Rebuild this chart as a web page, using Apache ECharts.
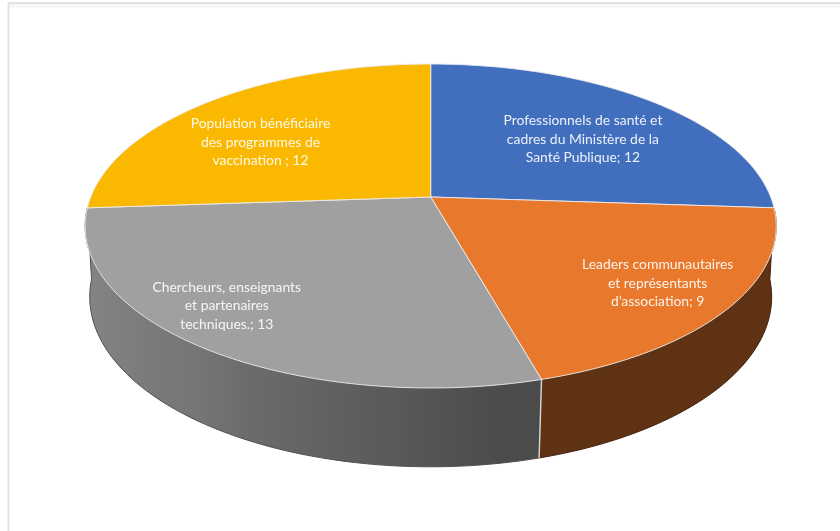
<!DOCTYPE html>
<html>
<head>
<meta charset="utf-8">
<style>
html,body{margin:0;padding:0;background:#fff}
#c{width:840px;height:531px;filter:blur(0.6px)}
</style>
<script src="https://cdn.jsdelivr.net/npm/echarts@6/dist/echarts.min.js"></script>
</head>
<body>
<div id="c"></div>
<script>
const categories = [
  "Professionnels de santé et\ncadres du Ministère de la\nSanté Publique; 12",
  "Leaders communautaires\net représentants\nd’association; 9",
  "Chercheurs, enseignants\net partenaires\ntechniques.; 13",
  "Population bénéficiaire\ndes programmes de\nvaccination ; 12"
];
const values = [12, 9, 13, 12];
const topColors = ["#426ebe", "#e8782b", "#a0a0a0", "#fab900"];

/* Layout of the perspective disc */
const TOP = {cx: 430.7, cy: 197, A: 340, B: 156.8, k: 0.179};
const BOTTOM = {cx: 430.7, cy: 268, A: 336, B: 165, k: 0.17};
const labelPlace = [[0.62, 9, 4], [0.8, -5, -1], [0.7, -51, 9], [0.62, -27, 7]];

const total = values.reduce((a, b) => a + b, 0);
const deg = d => d * Math.PI / 180;
function angles(i) {
  let s = 0;
  for (let j = 0; j < i; j++) s += values[j];
  return [s / total * 360, (s + values[i]) / total * 360];
}
function project(disc, a, r) {
  const u = r * Math.sin(deg(a)), v = -r * Math.cos(deg(a));
  const w = 1 - disc.k * v;
  return [disc.cx + disc.A * u / w, disc.cy + disc.B * v / w];
}
function rim(disc, a0, a1) {
  const pts = [], n = Math.max(2, Math.ceil((a1 - a0) / 1.5));
  for (let i = 0; i <= n; i++) pts.push(project(disc, a0 + (a1 - a0) * i / n, 1));
  return pts;
}
const sideFills = [
  null,
  "#5e3213",
  new echarts.graphic.LinearGradient(88, 0, 540, 0, [
    {offset: 0, color: "#848484"},
    {offset: 0.14, color: "#7a7a7a"},
    {offset: 0.25, color: "#757575"},
    {offset: 0.36, color: "#6b6b6b"},
    {offset: 0.5, color: "#636363"},
    {offset: 0.7, color: "#585858"},
    {offset: 0.88, color: "#4d4d4d"},
    {offset: 1, color: "#4b4b4b"}
  ], true),
  null
];
const sideEdges = [null, "#43200c", "#505050", null];

const data = values.map((v, i) => ({name: categories[i], value: [v, i]}));

function renderSide(params, api) {
  const i = api.value(1), fill = sideFills[i];
  if (!fill) return {type: "group", children: []};
  const [a0, a1] = angles(i);
  const pts = rim(TOP, a0, a1).concat(rim(BOTTOM, a0, a1).reverse());
  return {type: "polygon", shape: {points: pts},
    style: {fill: fill, stroke: sideEdges[i], lineWidth: 1}};
}
function renderTop(params, api) {
  const i = api.value(1), [a0, a1] = angles(i);
  const pts = [[TOP.cx, TOP.cy]].concat(rim(TOP, a0, a1));
  return {type: "polygon", shape: {points: pts},
    style: {fill: topColors[i], stroke: "rgba(236,236,236,0.9)", lineWidth: 1, lineJoin: "round"}};
}
function renderSeam(params, api) {
  const i = api.value(1), [a0] = angles(i);
  if (i !== 2) return {type: "group", children: []};
  return {type: "line",
    shape: {x1: project(TOP, a0, 1)[0], y1: project(TOP, a0, 1)[1],
            x2: project(BOTTOM, a0, 1)[0], y2: project(BOTTOM, a0, 1)[1]},
    style: {stroke: "#d8d8d8", lineWidth: 1.4}};
}
function renderLabel(params, api) {
  const i = api.value(1), [a0, a1] = angles(i), lp = labelPlace[i];
  const p = project(TOP, (a0 + a1) / 2, lp[0]);
  return {type: "text",
    style: {x: p[0] + lp[1], y: p[1] + lp[2], text: categories[i],
      fill: "rgba(255,255,255,0.9)", font: "13.9px Lato",
      align: "center", verticalAlign: "middle", lineHeight: 18.5}};
}
function customSeries(fn, z) {
  return {type: "custom", coordinateSystem: "none", renderItem: fn, data: data,
    z: z, silent: true, animation: false, clip: false};
}
const chart = echarts.init(document.getElementById("c"), null, {renderer: "canvas"});
chart.setOption({
  animation: false,
  backgroundColor: "#ffffff",
  graphic: [
    {type: "rect", shape: {x: 9, y: 4, width: 831, height: 4}, style: {fill: "#f8f8f8"}, z: 0},
    {type: "line", shape: {x1: 8, y1: 3, x2: 840, y2: 3}, style: {stroke: "#e2e2e2", lineWidth: 2}, z: 1},
    {type: "line", shape: {x1: 8.5, y1: 2, x2: 8.5, y2: 531}, style: {stroke: "#e4e4e4", lineWidth: 2}, z: 1}
  ],
  series: [customSeries(renderSide, 2), customSeries(renderSeam, 3), customSeries(renderTop, 4), customSeries(renderLabel, 5)]
});
</script>
</body>
</html>
